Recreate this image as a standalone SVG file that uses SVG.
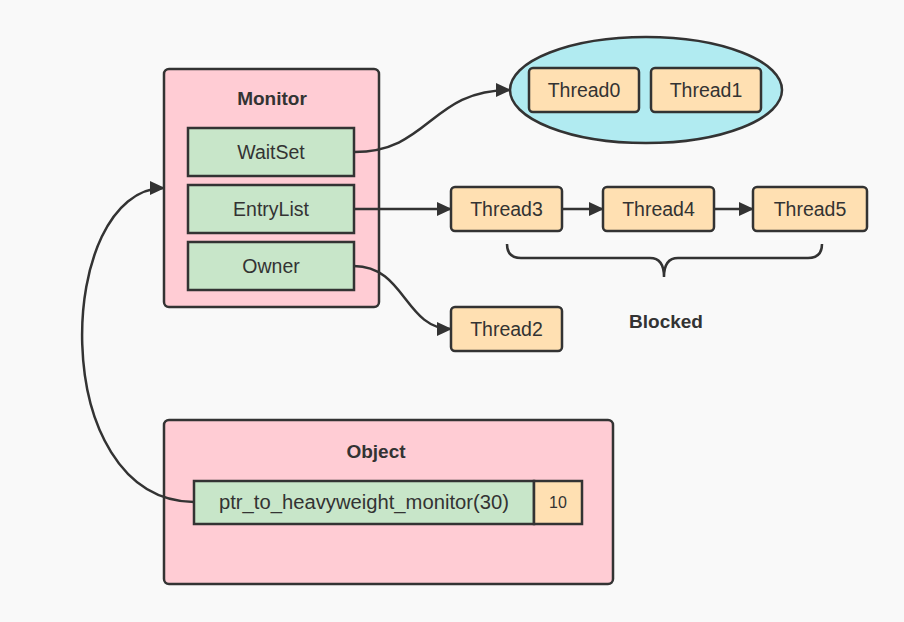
<svg xmlns="http://www.w3.org/2000/svg" width="904" height="622" viewBox="0 0 904 622">
  <style>
    .box { stroke: #333; stroke-width: 2.5; }
    .pink { fill: #ffccd4; }
    .green { fill: #c8e6c9; }
    .orange { fill: #ffe0b2; }
    .cyan { fill: #b1ebf1; }
    .lbl { font-family: "Liberation Sans", Arial, sans-serif; font-size: 19.5px; fill: #333; text-anchor: middle; }
    .title { font-family: "Liberation Sans", Arial, sans-serif; font-size: 19px; font-weight: bold; fill: #333; text-anchor: middle; }
    .wire { fill: none; stroke: #333; stroke-width: 2.5; }
  </style>
  <defs>
    <marker id="arrow" markerUnits="userSpaceOnUse" markerWidth="16" markerHeight="14" refX="14" refY="7" orient="auto">
      <path d="M0 0 L15 7 L0 14 Z" fill="#333"/>
    </marker>
  </defs>
  <rect width="904" height="622" fill="#f9f9f9"/>

  <g id="monitor">
    <rect class="box pink" x="164" y="69" width="215" height="238" rx="5"/>
    <text class="title" x="272" y="105">Monitor</text>
  </g>
  <g id="waitset">
    <rect class="box green" x="188" y="128" width="166" height="48"/>
    <text class="lbl" x="271" y="159">WaitSet</text>
  </g>
  <g id="entrylist">
    <rect class="box green" x="188" y="185" width="166" height="48"/>
    <text class="lbl" x="271" y="216">EntryList</text>
  </g>
  <g id="owner">
    <rect class="box green" x="188" y="242" width="166" height="48"/>
    <text class="lbl" x="271" y="273">Owner</text>
  </g>

  <g id="waitset-pool">
    <ellipse class="box cyan" cx="646" cy="90" rx="136" ry="53"/>
  </g>
  <g id="thread0">
    <rect class="box orange" x="529" y="68" width="110" height="44" rx="4"/>
    <text class="lbl" x="584" y="97">Thread0</text>
  </g>
  <g id="thread1">
    <rect class="box orange" x="651" y="68" width="110" height="44" rx="4"/>
    <text class="lbl" x="706" y="97">Thread1</text>
  </g>
  <g id="thread3">
    <rect class="box orange" x="451" y="187" width="111" height="44" rx="4"/>
    <text class="lbl" x="506.5" y="216">Thread3</text>
  </g>
  <g id="thread4">
    <rect class="box orange" x="603" y="187" width="111" height="44" rx="4"/>
    <text class="lbl" x="658.5" y="216">Thread4</text>
  </g>
  <g id="thread5">
    <rect class="box orange" x="753" y="187" width="114" height="44" rx="4"/>
    <text class="lbl" x="810" y="216">Thread5</text>
  </g>
  <g id="thread2">
    <rect class="box orange" x="451" y="307" width="111" height="44" rx="4"/>
    <text class="lbl" x="506.5" y="336">Thread2</text>
  </g>

  <g id="blocked">
    <path class="wire" d="M507 244 Q507 258 521 258 L650 258 Q664 258 664 277 Q664 258 678 258 L808 258 Q822 258 822 244"/>
    <text class="title" x="666" y="328">Blocked</text>
  </g>

  <g id="object">
    <rect class="box pink" x="164" y="420" width="449" height="164" rx="5"/>
    <text class="title" x="376" y="458">Object</text>
  </g>
  <g id="mark-word">
    <rect class="box green" x="194" y="481" width="340" height="43"/>
    <text class="lbl" x="364" y="509" textLength="290" lengthAdjust="spacingAndGlyphs">ptr_to_heavyweight_monitor(30)</text>
    <rect class="box orange" x="534" y="481" width="48" height="43"/>
    <text class="lbl" x="558" y="508" style="font-size:16px">10</text>
  </g>

  <g id="connectors">
    <path class="wire" d="M354 152 C430 152 430 90 510 90" marker-end="url(#arrow)"/>
    <path class="wire" d="M354 209 L451 209" marker-end="url(#arrow)"/>
    <path class="wire" d="M562 209 L603 209" marker-end="url(#arrow)"/>
    <path class="wire" d="M714 209 L753 209" marker-end="url(#arrow)"/>
    <path class="wire" d="M354 266 C405 266 405 329 451 329" marker-end="url(#arrow)"/>
    <path class="wire" d="M194 502 C45 500 55 188 164 188" marker-end="url(#arrow)"/>
  </g>
</svg>
